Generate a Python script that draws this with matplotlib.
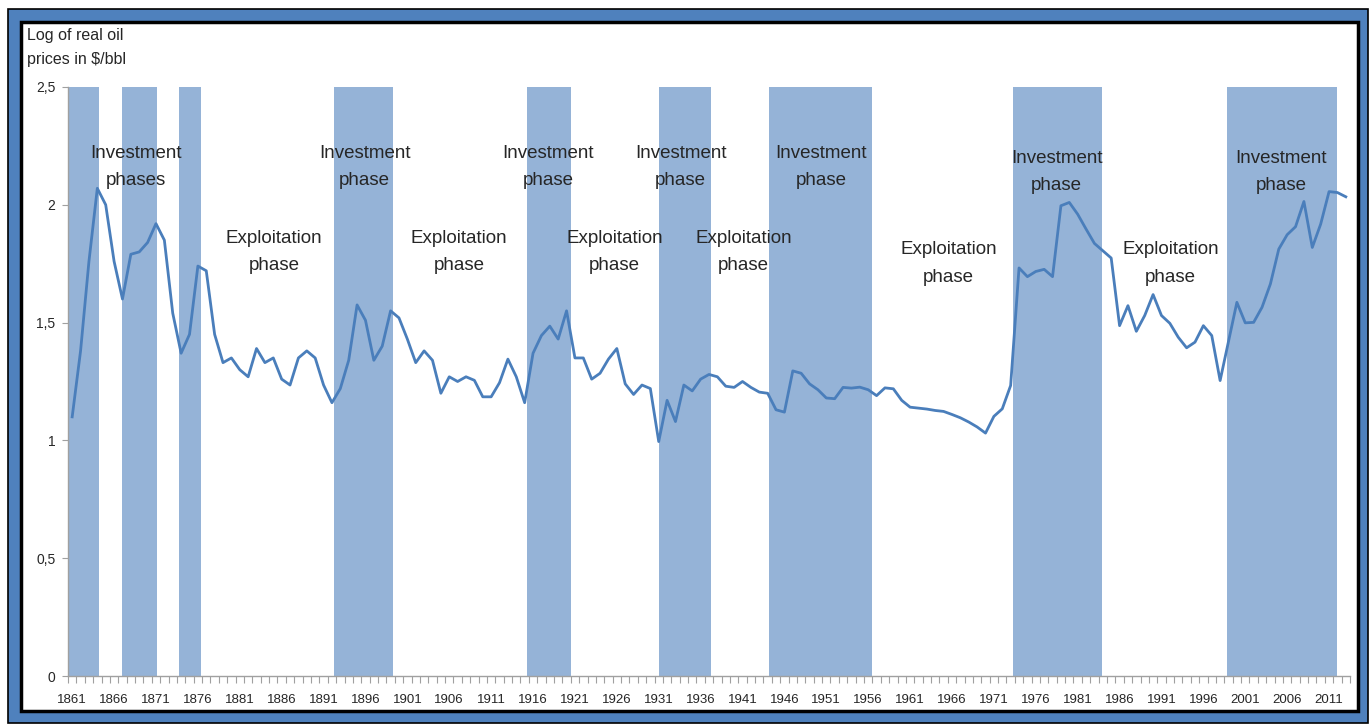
import matplotlib
matplotlib.use("Agg")
import matplotlib.pyplot as plt
from matplotlib.patches import Rectangle
from matplotlib.ticker import FixedLocator

# log of real oil prices, one value per year 1861-2013
years = list(range(1861, 2014))
log_price = [
    1.10, 1.38, 1.76, 2.07, 2.00, 1.76, 1.60, 1.79, 1.80, 1.84,   # 1861-1870
    1.92, 1.85, 1.54, 1.37, 1.45, 1.74, 1.72, 1.45, 1.33, 1.35,   # 1871-1880
    1.30, 1.27, 1.39, 1.33, 1.35, 1.26, 1.235, 1.35, 1.38, 1.35,  # 1881-1890
    1.235, 1.16, 1.22, 1.34, 1.575, 1.51, 1.34, 1.40, 1.55, 1.52, # 1891-1900
    1.43, 1.33, 1.38, 1.34, 1.20, 1.27, 1.25, 1.27, 1.255, 1.185, # 1901-1910
    1.185, 1.245, 1.345, 1.27, 1.16, 1.37, 1.445, 1.485, 1.43, 1.55,  # 1911-1920
    1.35, 1.35, 1.26, 1.285, 1.345, 1.39, 1.24, 1.195, 1.235, 1.22,   # 1921-1930
    0.995, 1.17, 1.08, 1.235, 1.21, 1.26, 1.28, 1.27, 1.23, 1.225,    # 1931-1940
    1.25, 1.225, 1.205, 1.20, 1.13, 1.12, 1.295, 1.285, 1.24, 1.215,  # 1941-1950
    1.18, 1.177, 1.225, 1.222, 1.226, 1.215, 1.19, 1.223, 1.219, 1.17,  # 1951-1960
    1.141, 1.137, 1.133, 1.127, 1.123, 1.11, 1.096, 1.078, 1.057, 1.031,  # 1961-1970
    1.102, 1.134, 1.233, 1.732, 1.695, 1.717, 1.726, 1.695, 1.996, 2.01,  # 1971-1980
    1.96, 1.897, 1.836, 1.805, 1.774, 1.487, 1.572, 1.463, 1.53, 1.619,   # 1981-1990
    1.53, 1.497, 1.438, 1.393, 1.417, 1.487, 1.445, 1.254, 1.42, 1.586,   # 1991-2000
    1.499, 1.501, 1.565, 1.664, 1.812, 1.873, 1.907, 2.014, 1.819, 1.918, # 2001-2010
    2.056, 2.052, 2.034,                                                  # 2011-2013
]

# investment phases (start, end) in years
phase_start = [1860.5, 1866.9, 1873.8, 1892.3, 1915.3, 1931.0, 1944.2, 1973.3, 1998.8]
phase_end = [1864.2, 1871.1, 1876.4, 1899.3, 1920.5, 1937.2, 1956.5, 1983.9, 2012.0]

year_ticks = list(range(1861, 2012, 5))
y_ticks = [0, 0.5, 1, 1.5, 2, 2.5]
y_tick_labels = ["0", "0,5", "1", "1,5", "2", "2,5"]

# phase annotations: text, year, value
labels = [
    ("Investment\nphases", 1868.6, 2.16),
    ("Investment\nphase", 1895.9, 2.16),
    ("Investment\nphase", 1917.8, 2.16),
    ("Investment\nphase", 1933.6, 2.16),
    ("Investment\nphase", 1950.4, 2.16),
    ("Investment\nphase", 1978.5, 2.14),
    ("Investment\nphase", 2005.3, 2.14),
    ("Exploitation\nphase", 1885.1, 1.80),
    ("Exploitation\nphase", 1907.2, 1.80),
    ("Exploitation\nphase", 1925.7, 1.80),
    ("Exploitation\nphase", 1941.1, 1.80),
    ("Exploitation\nphase", 1965.6, 1.75),
    ("Exploitation\nphase", 1992.1, 1.75),
]

plt.rcParams["font.family"] = ["Liberation Sans", "DejaVu Sans"]

W, H = 1369, 725
fig = plt.figure(figsize=(W / 100, H / 100), dpi=100)


def px_rect(x0, y0, x1, y1, **kw):
    # rectangle given in image pixels (origin top-left)
    return Rectangle((x0 / W, 1 - y1 / H), (x1 - x0) / W, (y1 - y0) / H,
                     transform=fig.transFigure, **kw)


# blue frame around the chart
fig.patches.append(px_rect(8, 9, 1368, 723, facecolor="#4F81BD",
                           edgecolor="black", linewidth=1.2, zorder=-3))
fig.patches.append(px_rect(21, 22, 1358, 711, facecolor="white",
                           edgecolor="black", linewidth=2.5, zorder=-2))

ax = fig.add_axes([68 / W, 1 - 676 / H, 1282 / W, 589 / H])
ax.set_facecolor("none")

for s, e in zip(phase_start, phase_end):
    ax.axvspan(s, e, ymin=0, ymax=1, color="#95B3D7", lw=0, zorder=1)

ax.plot(years, log_price, color="#4A7EBB", linewidth=2.0, zorder=3)

for txt, x, y in labels:
    ax.text(x, y, txt, ha="center", va="center", fontsize=13.5,
            color="#262626", linespacing=1.8, zorder=4)

ax.set_xlim(1860.5, 2013.5)
ax.set_ylim(0, 2.5)

ax.xaxis.set_major_locator(FixedLocator(year_ticks))
ax.xaxis.set_minor_locator(FixedLocator([y - 0.5 for y in years] + [2013.5]))
ax.set_xticklabels([str(y) for y in year_ticks])
ax.set_yticks(y_ticks)
ax.set_yticklabels(y_tick_labels)

for side in ["top", "right"]:
    ax.spines[side].set_visible(False)
for side in ["left", "bottom"]:
    ax.spines[side].set_color("#A0A0A0")
    ax.spines[side].set_linewidth(1.0)

ax.tick_params(axis="x", which="major", length=0, pad=13, labelsize=9.5,
               labelcolor="#262626")
ax.tick_params(axis="x", which="minor", length=5, color="#A0A0A0", width=0.8)
ax.tick_params(axis="y", which="major", length=4, color="#A0A0A0", width=0.8,
               pad=5, labelsize=10, labelcolor="#262626")

fig.text(27 / W, 1 - 28 / H, "Log of real oil\nprices in $/bbl", ha="left",
         va="top", fontsize=11.5, color="#262626", linespacing=1.75)

fig.savefig("out.png", dpi=100)
